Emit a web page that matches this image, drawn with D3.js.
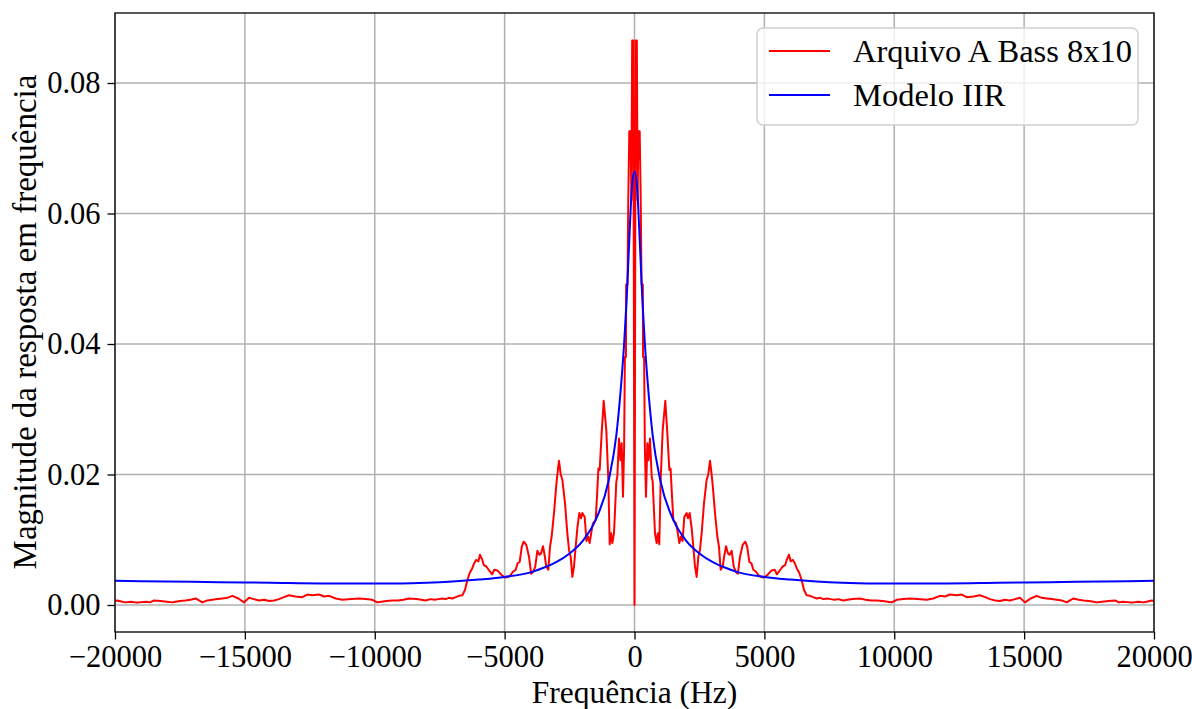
<!DOCTYPE html>
<html>
<head>
<meta charset="utf-8">
<script src="https://cdn.jsdelivr.net/npm/d3@7"></script>
<style>
  body { margin: 0; background: #fff; }
  text { font-family: "Liberation Serif", "Times New Roman", serif; }
</style>
</head>
<body>
<script>
// espectro: metade positiva, o resto é espelhado (resposta de sinal real)
const redFreq = [0, 45, 90, 120, 150, 200, 240, 270, 320, 330, 370, 400, 443, 494, 540, 597, 661, 700, 789, 853, 900, 955,
  1008, 1085, 1186, 1264, 1341, 1390, 1431, 1495, 1600, 1660, 1726, 1790, 1850, 1918, 2008, 2060, 2124, 2200, 2265, 2329,
  2393, 2457, 2520, 2586, 2676, 2778, 2840, 2907, 2950, 3010, 3099, 3189, 3253, 3317, 3400, 3450, 3523, 3600, 3660, 3741,
  3820, 3895, 3980, 4062, 4165, 4267, 4340, 4421, 4500, 4575, 4680, 4767, 4858, 4986, 5114, 5281, 5400, 5480, 5560, 5705,
  5800, 5859, 5948, 6010, 6100, 6170, 6250, 6345, 6436, 6526, 6628, 6756, 6880, 7014, 7150, 7270, 7400, 7550, 7700, 7850,
  8040, 8200, 8400, 8681, 8900, 9100, 9323, 9550, 9750, 9900, 10093, 10350, 10606, 10900, 11248, 11500, 11761, 11950,
  12146, 12400, 12596, 12788, 13050, 13301, 13500, 13686, 13880, 14071, 14250, 14456, 14650, 14841, 15034, 15250, 15484,
  15680, 15869, 16060, 16254, 16450, 16639, 16896, 17100, 17281, 17500, 17666, 17794, 18000, 18250, 18500, 18650, 18800,
  19076, 19204, 19400, 19589, 19717, 19910, 20000];
const redMag = [0.0000, 0.0865, 0.0865, 0.0620, 0.0726, 0.0726, 0.0620, 0.0491, 0.0491, 0.0380, 0.0380, 0.0240, 0.0166,
  0.0248, 0.0222, 0.0255, 0.0197, 0.0189, 0.0110, 0.0095, 0.0110, 0.0093,
  0.0192, 0.0268, 0.0313, 0.0263, 0.0207, 0.0209, 0.0176, 0.0130, 0.0125, 0.0112, 0.0095, 0.0105, 0.0098, 0.0135, 0.0141,
  0.0133, 0.0141, 0.0118, 0.0089, 0.0059,
  0.0043, 0.0074, 0.0084, 0.0110, 0.0156, 0.0192, 0.0200, 0.0221, 0.0207, 0.0184, 0.0141, 0.0105, 0.0089, 0.0054, 0.0059,
  0.0074, 0.0090, 0.0079, 0.0077, 0.0083,
  0.0059, 0.0051, 0.0048, 0.0074, 0.0092, 0.0097, 0.0089, 0.0066, 0.0064, 0.0054, 0.0051, 0.0046, 0.0043, 0.0042, 0.0046,
  0.0053, 0.0054, 0.0047, 0.0051, 0.0059,
  0.0061, 0.0069, 0.0077, 0.0067, 0.0069, 0.0064, 0.0056, 0.0049, 0.0038, 0.0023, 0.0015, 0.0014, 0.0012, 0.0010, 0.0011,
  0.0009, 0.0010, 0.0009, 0.0008, 0.0009,
  0.0007, 0.0008, 0.0009, 0.0010, 0.0008, 0.0007, 0.0007, 0.0006, 0.0005, 0.0004, 0.0008, 0.0009, 0.0010, 0.0009, 0.0008,
  0.0010, 0.0014, 0.0013,
  0.0016, 0.0015, 0.0016, 0.0012, 0.0013, 0.0015, 0.0012, 0.0009, 0.0007, 0.0006, 0.0008, 0.0007, 0.0009, 0.0011, 0.0004,
  0.0010, 0.0014,
  0.0011, 0.0010, 0.0009, 0.0008, 0.0007, 0.0004, 0.0010, 0.0008, 0.0007, 0.0006, 0.0005, 0.0004, 0.0005, 0.0006, 0.0007,
  0.0004, 0.0005,
  0.0004, 0.0004, 0.0005, 0.0004, 0.0005, 0.0007, 0.0006];

// modelo IIR, também metade positiva
const iirFreq = [0, 100, 200, 300, 400, 500, 700, 1000, 1500, 2000, 2500, 3000, 3500, 4000, 5000, 6000, 7000, 8000, 9000,
  10000, 12000, 14000, 16000, 18000, 20000];
const iirMag = [0.0664, 0.0640, 0.0560, 0.0470, 0.0400, 0.0345, 0.0260, 0.0190, 0.0130, 0.0098, 0.0079, 0.0066, 0.0057,
  0.0050, 0.0043, 0.0039, 0.0036, 0.0034, 0.0033, 0.0033, 0.0033, 0.0034, 0.0035, 0.0036, 0.0037];

const xTicks = [-20000, -15000, -10000, -5000, 0, 5000, 10000, 15000, 20000];
const yTicks = [0, 0.02, 0.04, 0.06, 0.08];
const seriesNames = ["Arquivo A Bass 8x10", "Modelo IIR"];
const seriesColors = ["#ff0000", "#0000ff"];

function mirror(fs, vs) {
  const out = [];
  for (let i = fs.length - 1; i > 0; i--) out.push([-fs[i], vs[i]]);
  for (let i = 0; i < fs.length; i++) out.push([fs[i], vs[i]]);
  return out;
}
const redData = mirror(redFreq, redMag);
const iirData = mirror(iirFreq, iirMag);

const margin = {top: 13, right: 38, bottom: 77, left: 115};
const W = 1192, H = 709;
const width = W - margin.left - margin.right;
const height = H - margin.top - margin.bottom;

const svg = d3.select("body").append("svg")
  .attr("width", W)
  .attr("height", H);

const chart = svg.append("g")
  .attr("transform", "translate(" + margin.left + "," + margin.top + ")");

const x = d3.scaleLinear().domain([-20000, 20000]).range([0, width]);
const y = d3.scaleLinear().domain([-0.00414, 0.09073]).range([height, 0]);

chart.append("defs").append("clipPath").attr("id", "clip")
  .append("rect").attr("width", width).attr("height", height);

// grade
chart.append("g").selectAll("line").data(xTicks).enter().append("line")
  .attr("x1", d => x(d)).attr("x2", d => x(d))
  .attr("y1", 0).attr("y2", height)
  .attr("stroke", "#b0b0b0").attr("stroke-width", 1.5);
chart.append("g").selectAll("line").data(yTicks).enter().append("line")
  .attr("x1", 0).attr("x2", width)
  .attr("y1", d => y(d)).attr("y2", d => y(d))
  .attr("stroke", "#b0b0b0").attr("stroke-width", 1.5);

const line = d3.line().x(d => x(d[0])).y(d => y(d[1]));

const plot = chart.append("g").attr("clip-path", "url(#clip)");
plot.append("path").datum(redData)
  .attr("d", line)
  .attr("fill", "none").attr("stroke", seriesColors[0])
  .attr("stroke-width", 2).attr("stroke-linejoin", "round");
plot.append("path").datum(iirData)
  .attr("d", line.curve(d3.curveMonotoneX))
  .attr("fill", "none").attr("stroke", seriesColors[1])
  .attr("stroke-width", 2);

// eixos
const xAxis = chart.append("g")
  .attr("transform", "translate(0," + height + ")")
  .call(d3.axisBottom(x).tickValues(xTicks).tickSize(7.5).tickPadding(6).tickFormat(d3.format("d")));
const yAxis = chart.append("g")
  .call(d3.axisLeft(y).tickValues(yTicks).tickSize(7.5).tickPadding(7).tickFormat(d3.format(".2f")));

[xAxis, yAxis].forEach(a => {
  a.select(".domain").remove();
  a.selectAll(".tick line").attr("stroke", "#000").attr("stroke-width", 1.3);
  a.selectAll(".tick text").attr("font-family", "Liberation Serif").attr("font-size", 30.5).attr("fill", "#000");
});
xAxis.selectAll(".tick text").attr("dy", "0.69em");

chart.append("rect")
  .attr("width", width).attr("height", height)
  .attr("fill", "none").attr("stroke", "#000").attr("stroke-width", 1.3);

svg.append("text")
  .attr("x", margin.left + width / 2)
  .attr("y", 703)
  .attr("text-anchor", "middle")
  .attr("font-size", 31.5)
  .text("Frequência (Hz)");

svg.append("text")
  .attr("transform", "rotate(-90)")
  .attr("x", -322)
  .attr("y", 36)
  .attr("text-anchor", "middle")
  .attr("font-size", 33)
  .text("Magnitude da resposta em frequência");

// legenda
const legend = svg.append("g").attr("transform", "translate(757,28)");
legend.append("rect")
  .attr("width", 381).attr("height", 97).attr("rx", 6)
  .attr("fill", "#fff").attr("fill-opacity", 0.8)
  .attr("stroke", "#d0d0d0").attr("stroke-width", 1.5);
const items = legend.selectAll(".item").data(seriesNames).enter().append("g")
  .attr("class", "item")
  .attr("transform", (d, i) => "translate(0," + (23 + i * 44) + ")");
items.append("line")
  .attr("x1", 12).attr("x2", 73)
  .attr("stroke", (d, i) => seriesColors[i]).attr("stroke-width", 2);
items.append("text")
  .attr("x", 96).attr("y", 11)
  .attr("font-size", 32.5)
  .text(d => d);
</script>
</body>
</html>
